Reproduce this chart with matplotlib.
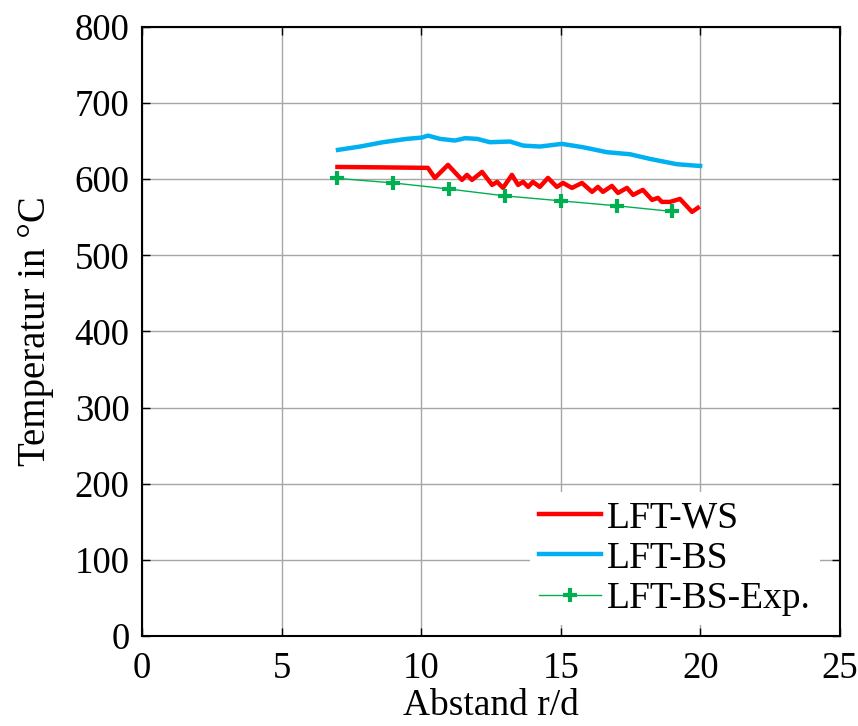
import matplotlib as mpl
mpl.use('Agg')
import matplotlib.pyplot as plt

plt.rcParams['font.family'] = ['Liberation Serif', 'DejaVu Serif']

# LFT-WS (red)
ws_x = [7.0, 8.5, 10.24, 10.49, 10.96, 11.46, 11.64, 11.82, 12.18, 12.54, 12.72,
        12.93, 13.25, 13.47, 13.65, 13.83, 14.0, 14.25, 14.54, 14.86, 15.08,
        15.40, 15.76, 16.12, 16.33, 16.51, 16.83, 17.05, 17.37, 17.59, 17.94,
        18.27, 18.48, 18.62, 18.91, 19.27, 19.70, 19.91]
ws_y = [616, 615.5, 614.8, 601.6, 618.7, 599, 605.6, 599, 609.5, 592.4, 596.4,
        588.5, 605.6, 592.4, 596.4, 589.8, 596.4, 589.8, 601.6, 589.8, 595,
        588.5, 595, 583.3, 589.8, 583.3, 591.1, 581.9, 588.5, 579.3, 585.9,
        572.7, 575.4, 570.1, 570.1, 574, 557, 562.3]

# LFT-BS (blue)
bs_x = [7.02, 7.81, 8.63, 9.49, 10.03, 10.24, 10.67, 11.21, 11.57, 12.0, 12.46,
        13.18, 13.65, 14.25, 15.04, 15.80, 16.65, 17.48, 18.19, 19.16, 19.99]
bs_y = [638.4, 642.8, 648.5, 652.9, 654.6, 657.2, 652.9, 650.7, 653.8, 652.9, 648.5,
        649.4, 644.1, 642.8, 646.3, 641.9, 635.4, 632.7, 626.6, 619.6, 617.3]

# LFT-BS-Exp. (green)
exp_x = [7, 9, 11, 13, 15, 17, 19]
exp_y = [601, 595, 587, 578, 571.5, 565, 557.5]

fig = plt.figure(figsize=(8.58, 7.26), dpi=100)
ax = fig.add_axes([0.1655, 0.124, 0.8135, 0.839])

ax.plot(ws_x, ws_y, color='#FF0000', lw=3.2, label='LFT-WS', zorder=3)
ax.plot(bs_x, bs_y, color='#00B0F0', lw=3.2, label='LFT-BS', zorder=3)
ax.plot(exp_x, exp_y, color='#00B050', lw=1, marker='+', ms=10, mew=3,
        label='LFT-BS-Exp.', zorder=3)

ax.set_xlim(0, 25)
ax.set_ylim(0, 800)
ax.set_xticks(range(0, 26, 5))
ax.set_yticks(range(0, 801, 100))
ax.grid(True, color='#A6A6A6', lw=1)
ax.set_axisbelow(True)
ax.tick_params(direction='in', labelsize=26.5, length=6, width=1, top=True, right=True)
ax.tick_params(axis='x', pad=11)
ax.tick_params(axis='y', pad=9)
for s in ax.spines.values():
    s.set_linewidth(1.5)

ax.set_xlabel('Abstand r/d', fontsize=27, labelpad=2)
ax.set_ylabel('Temperatur in °C', fontsize=28, labelpad=15)

leg = ax.legend(loc='lower left', bbox_to_anchor=(0.556, 0.018), borderaxespad=0,
                fontsize=27, frameon=True, framealpha=1,
                edgecolor='none', facecolor='white', handlelength=1.65,
                handletextpad=0.15, labelspacing=0.15, borderpad=0.25,
                fancybox=False)

fig.savefig('out.png', dpi=100)
